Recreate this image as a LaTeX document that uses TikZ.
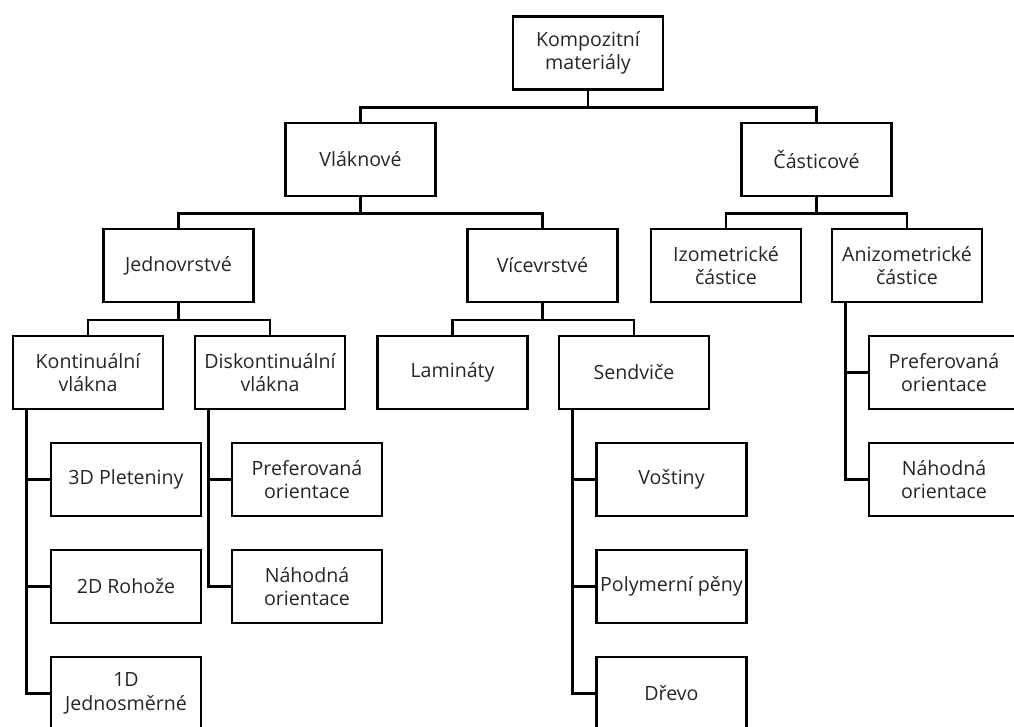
\documentclass[tikz,border=0pt]{standalone}
\usepackage{fontspec}
\setmainfont{Open Sans}
\usetikzlibrary{calc}
\tikzset{
  box/.style={draw=black, line width=2.6pt, fill=white, minimum width=150pt, minimum height=73pt,
    inner sep=0pt, align=center, text=black!85, font=\fontsize{19.6}{23.6}\selectfont},
  conn/.style={draw=black, line width=2.6pt}
}
\begin{document}
\begin{tikzpicture}[x=1pt,y=-1pt]
\useasboundingbox (0,0) rectangle (1014,727);
\clip (0,0) rectangle (1014,727);
% nodes
\node[box] (root) at (588,53) {Kompozitní\\materiály};
\node[box] (vlak) at (360.5,159.5) {Vláknové};
\node[box] (cast) at (816.5,159.5) {Částicové};
\node[box] (jedn) at (178.5,265.5) {Jednovrstvé};
\node[box] (vice) at (542.5,265.5) {Vícevrstvé};
\node[box] (izom) at (726,265.5) {Izometrické\\částice};
\node[box] (aniz) at (907,265.5) {Anizometrické\\částice};
\node[box] (kont) at (88,372.5) {Kontinuální\\vlákna};
\node[box] (disk) at (270,372.5) {Diskontinuální\\vlákna};
\node[box] (lam) at (452.5,372.5) {Lamináty};
\node[box] (send) at (634,372.5) {Sendviče};
\node[box] (pl3d) at (126,479.5) {3D Pleteniny};
\node[box] (ro2d) at (126,586.5) {2D Rohože};
\node[box] (je1d) at (126,693.5) {1D\\Jednosměrné};
\node[box] (pref1) at (307,479.5) {Preferovaná\\orientace};
\node[box] (nah1) at (307,586.5) {Náhodná\\orientace};
\node[box] (vost) at (671.5,479.5) {Voštiny};
\node[box] (poly) at (671.5,586.5) {Polymerní pěny};
\node[box] (drev) at (671.5,693.5) {Dřevo};
\node[box] (pref2) at (944,372.5) {Preferovaná\\orientace};
\node[box] (nah2) at (944,479.5) {Náhodná\\orientace};
% tree connectors
\foreach \p/\c in {root/vlak, root/cast, vlak/jedn, vlak/vice, cast/izom, cast/aniz,
                   jedn/kont, jedn/disk, vice/lam, vice/send}
  \draw[conn] (\p.south) -- ++(0,16.5) -| (\c.north);
% side connectors
\foreach \p/\c in {kont/pl3d, kont/ro2d, kont/je1d, disk/pref1, disk/nah1,
                   send/vost, send/poly, send/drev, aniz/pref2, aniz/nah2}
  \draw[conn] ([xshift=15pt]\p.south west) |- (\c.west);
\end{tikzpicture}
\end{document}
